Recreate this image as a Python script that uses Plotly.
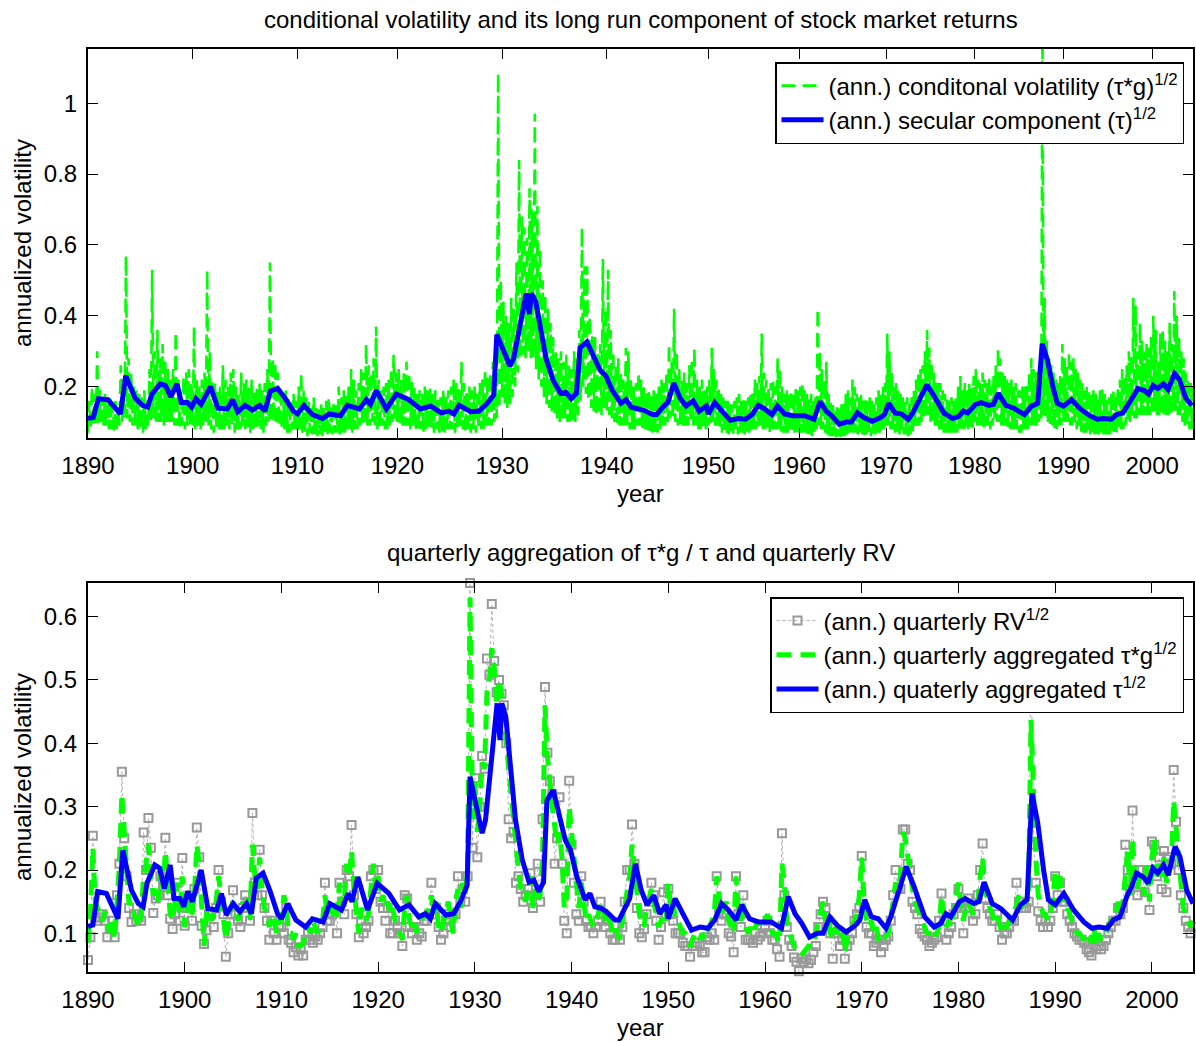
import numpy as np
import plotly.graph_objects as go

FONT = "Liberation Sans, Arial, Helvetica, sans-serif"
FS = 24

# ---------------- axis data ----------------
decade_years = [1890, 1900, 1910, 1920, 1930, 1940, 1950, 1960, 1970, 1980, 1990, 2000]
decade_labels = [str(y) for y in decade_years]
# top panel is daily data: trading days per decade (6-day weeks before 1952)
decade_trading_days = [3000, 3000, 2860, 3000, 3000, 2910, 2600, 2490, 2540, 2540, 2540]
tail_trading_days = 1170
top_end_year = 2004.375

first_quarter = 1890.0
quarter_len = 0.25

top_yticks = [0.2, 0.4, 0.6, 0.8, 1.0]
top_ylabels = ["0.2", "0.4", "0.6", "0.8", "1"]
bottom_yticks = [0.1, 0.2, 0.3, 0.4, 0.5, 0.6]
bottom_ylabels = ["0.1", "0.2", "0.3", "0.4", "0.5", "0.6"]

# ---------------- secular component tau^(1/2) ----------------
tau_years = [1890.0, 1890.5, 1891.0, 1891.9, 1893.1, 1893.6, 1894.5, 1895.2, 1895.7, 1896.1,
             1896.9, 1897.4, 1897.9, 1898.5, 1898.9, 1899.5, 1899.9, 1900.3, 1900.8, 1901.7,
             1902.4, 1903.3, 1903.8, 1904.3, 1905.0, 1905.7, 1906.4, 1906.9, 1907.4, 1908.1,
             1908.8, 1909.6, 1910.0, 1910.65, 1911.5, 1912.5, 1913.2, 1914.3, 1915.0, 1916.2,
             1916.9, 1917.3, 1917.9, 1918.9, 1919.9, 1921.1, 1922.2, 1923.2, 1924.2, 1924.9,
             1925.4, 1925.9, 1927.0, 1927.8, 1928.5, 1929.2, 1929.5, 1929.9, 1930.75, 1931.1,
             1931.8, 1932.3, 1932.6, 1932.8, 1933.2, 1933.7, 1934.2, 1934.9, 1935.6, 1936.1,
             1936.6, 1937.1, 1937.45, 1938.1, 1938.7, 1939.35, 1939.9, 1940.55, 1941.4, 1941.9,
             1942.4, 1943.1, 1943.6, 1944.5, 1944.9, 1945.5, 1946.0, 1946.6, 1947.2, 1947.8,
             1948.5, 1949.1, 1949.8, 1950.0, 1950.7, 1951.5, 1952.4, 1953.3, 1954.1, 1954.8,
             1955.5, 1956.2, 1957.0, 1957.6, 1958.4, 1959.3, 1960.65, 1961.7, 1962.4, 1963.1,
             1963.8, 1964.6, 1965.4, 1966.0, 1966.7, 1967.5, 1968.4, 1969.3, 1969.8, 1970.3,
             1971.0, 1971.7, 1972.5, 1973.0, 1973.7, 1974.6, 1975.4, 1976.5, 1977.5, 1978.2,
             1978.7, 1979.2, 1980.1, 1980.7, 1981.6, 1982.1, 1982.65, 1983.5, 1984.4, 1985.6,
             1986.4, 1987.1, 1987.6, 1988.2, 1988.8, 1989.3, 1990.0, 1990.9, 1991.9, 1992.96,
             1993.8, 1994.5, 1995.4, 1996.0, 1996.7, 1997.4, 1997.9, 1998.4, 1999.1, 1999.6,
             2000.1, 2000.6, 2001.2, 2001.7, 2002.4, 2002.9, 2003.6, 2004.25]
tau_vals = [0.111, 0.113, 0.166, 0.163, 0.123, 0.231, 0.168, 0.147, 0.142, 0.179,
            0.208, 0.203, 0.171, 0.208, 0.155, 0.155, 0.142, 0.166, 0.150, 0.200,
            0.139, 0.137, 0.163, 0.129, 0.147, 0.134, 0.147, 0.131, 0.187, 0.195,
            0.168, 0.131, 0.123, 0.147, 0.121, 0.110, 0.123, 0.118, 0.147, 0.137,
            0.163, 0.150, 0.189, 0.137, 0.179, 0.163, 0.137, 0.145, 0.126, 0.131,
            0.123, 0.147, 0.129, 0.131, 0.150, 0.176, 0.347, 0.316, 0.258, 0.279,
            0.379, 0.463, 0.405, 0.463, 0.442, 0.358, 0.279, 0.216, 0.181, 0.184,
            0.166, 0.181, 0.310, 0.326, 0.284, 0.247, 0.231, 0.189, 0.153, 0.163,
            0.142, 0.139, 0.134, 0.121, 0.121, 0.142, 0.155, 0.210, 0.168, 0.145,
            0.160, 0.131, 0.145, 0.123, 0.155, 0.131, 0.105, 0.110, 0.108, 0.121,
            0.147, 0.137, 0.121, 0.145, 0.123, 0.118, 0.118, 0.108, 0.158, 0.131,
            0.116, 0.094, 0.100, 0.100, 0.126, 0.112, 0.102, 0.112, 0.121, 0.153,
            0.126, 0.123, 0.108, 0.126, 0.163, 0.205, 0.174, 0.126, 0.110, 0.116,
            0.131, 0.126, 0.150, 0.155, 0.147, 0.150, 0.181, 0.147, 0.139, 0.121,
            0.145, 0.153, 0.321, 0.274, 0.200, 0.153, 0.145, 0.163, 0.137, 0.118,
            0.108, 0.110, 0.108, 0.121, 0.126, 0.158, 0.174, 0.195, 0.189, 0.179,
            0.203, 0.195, 0.208, 0.192, 0.237, 0.221, 0.168, 0.147]

# ---------------- top panel: conditional volatility, quarterly high / low of daily values ----------------
cv_hi = [
    0.16, 0.20, 0.18, 0.30,  0.19, 0.17, 0.18, 0.16,  0.17, 0.15, 0.16, 0.14,  0.26, 0.22, 0.57, 0.28,  # 1890-93
    0.24, 0.20, 0.19, 0.18,  0.17, 0.19, 0.16, 0.25,  0.53, 0.30, 0.36, 0.28,  0.32, 0.27, 0.25, 0.22,  # 1894-97
    0.25, 0.355, 0.22, 0.19, 0.23, 0.24, 0.25, 0.21,  0.37, 0.22, 0.20, 0.22,  0.24, 0.53, 0.30, 0.22,  # 1898-01
    0.21, 0.19, 0.20, 0.26,  0.22, 0.20, 0.24, 0.25,  0.20, 0.18, 0.24, 0.21,  0.22, 0.20, 0.22, 0.19,  # 1902-05
    0.20, 0.21, 0.19, 0.21,  0.25, 0.55, 0.28, 0.27,  0.24, 0.20, 0.18, 0.19,  0.17, 0.16, 0.18, 0.16,  # 1906-09
    0.20, 0.24, 0.19, 0.17,  0.16, 0.15, 0.17, 0.14,  0.14, 0.15, 0.14, 0.16,  0.17, 0.15, 0.16, 0.15,  # 1910-13
    0.20, 0.17, 0.19, 0.18,  0.20, 0.25, 0.22, 0.19,  0.21, 0.25, 0.24, 0.32,  0.26, 0.24, 0.28, 0.37,  # 1914-17
    0.22, 0.19, 0.20, 0.21,  0.22, 0.25, 0.29, 0.24,  0.25, 0.22, 0.24, 0.27,  0.24, 0.22, 0.20, 0.19,  # 1918-21
    0.19, 0.18, 0.20, 0.19,  0.20, 0.18, 0.19, 0.17,  0.17, 0.19, 0.18, 0.19,  0.20, 0.22, 0.21, 0.20,  # 1922-25
    0.27, 0.21, 0.19, 0.20,  0.19, 0.20, 0.18, 0.21,  0.22, 0.25, 0.23, 0.24,  0.27, 0.26, 1.085, 0.50, # 1926-29
    0.44, 0.40, 0.38, 0.45,  0.42, 0.55, 0.84, 0.68,  0.65, 0.62, 0.76, 0.70,  0.97, 0.71, 0.59, 0.50,  # 1930-33
    0.46, 0.42, 0.38, 0.34,  0.30, 0.28, 0.30, 0.27,  0.29, 0.26, 0.25, 0.30,  0.28, 0.36, 0.65, 0.54,  # 1934-37
    0.54, 0.40, 0.35, 0.34,  0.30, 0.32, 0.56, 0.42,  0.53, 0.36, 0.30, 0.26,  0.28, 0.24, 0.22, 0.31,  # 1938-41
    0.30, 0.22, 0.20, 0.21,  0.24, 0.22, 0.20, 0.19,  0.19, 0.18, 0.19, 0.18,  0.20, 0.22, 0.21, 0.24,  # 1942-45
    0.32, 0.27, 0.42, 0.30,  0.25, 0.22, 0.24, 0.21,  0.26, 0.28, 0.31, 0.22,  0.20, 0.22, 0.19, 0.20,  # 1946-49
    0.22, 0.31, 0.25, 0.22,  0.20, 0.18, 0.17, 0.16,  0.16, 0.15, 0.15, 0.16,  0.17, 0.18, 0.16, 0.17,  # 1950-53
    0.16, 0.17, 0.18, 0.19,  0.22, 0.21, 0.23, 0.35,  0.24, 0.22, 0.20, 0.21,  0.22, 0.20, 0.28, 0.25,  # 1954-57
    0.20, 0.18, 0.19, 0.18,  0.19, 0.18, 0.20, 0.19,  0.20, 0.21, 0.19, 0.18,  0.17, 0.18, 0.16, 0.17,  # 1958-61
    0.42, 0.30, 0.25, 0.22,  0.27, 0.18, 0.16, 0.15,  0.14, 0.15, 0.14, 0.15,  0.16, 0.18, 0.19, 0.17,  # 1962-65
    0.22, 0.20, 0.18, 0.17,  0.18, 0.16, 0.17, 0.16,  0.17, 0.16, 0.15, 0.17,  0.19, 0.18, 0.20, 0.21,  # 1966-69
    0.35, 0.30, 0.24, 0.20,  0.21, 0.19, 0.18, 0.17,  0.16, 0.17, 0.16, 0.17,  0.19, 0.22, 0.24, 0.25,  # 1970-73
    0.26, 0.30, 0.36, 0.31,  0.27, 0.24, 0.22, 0.21,  0.21, 0.19, 0.18, 0.17,  0.16, 0.17, 0.16, 0.17,  # 1974-77
    0.20, 0.23, 0.19, 0.21,  0.19, 0.21, 0.20, 0.23,  0.25, 0.22, 0.21, 0.24,  0.22, 0.21, 0.23, 0.20,  # 1978-81
    0.23, 0.26, 0.31, 0.28,  0.24, 0.23, 0.22, 0.21,  0.22, 0.20, 0.21, 0.19,  0.19, 0.20, 0.20, 0.21,  # 1982-85
    0.24, 0.28, 0.25, 0.24,  0.25, 0.26, 1.30, 0.45,  0.33, 0.28, 0.26, 0.24,  0.22, 0.21, 0.23, 0.32,  # 1986-89
    0.28, 0.26, 0.30, 0.27,  0.28, 0.25, 0.24, 0.22,  0.21, 0.19, 0.20, 0.19,  0.18, 0.19, 0.18, 0.17,  # 1990-93
    0.19, 0.20, 0.18, 0.17,  0.17, 0.18, 0.19, 0.18,  0.20, 0.22, 0.25, 0.23,  0.26, 0.30, 0.29, 0.45,  # 1994-97
    0.43, 0.30, 0.38, 0.33,  0.30, 0.32, 0.31, 0.34,  0.40, 0.36, 0.27, 0.35,  0.36, 0.33, 0.30, 0.38,  # 1998-01
    0.32, 0.47, 0.40, 0.34,  0.30, 0.28, 0.24, 0.22,  0.21, 0.20]                                      # 2002-04
cv_lo = [
    0.07, 0.08, 0.09, 0.09,  0.09, 0.10, 0.09, 0.09,  0.08, 0.08, 0.07, 0.08,  0.09, 0.10, 0.11, 0.11,  # 1890-93
    0.10, 0.09, 0.09, 0.08,  0.08, 0.07, 0.08, 0.09,  0.10, 0.11, 0.10, 0.10,  0.10, 0.09, 0.10, 0.10,  # 1894-97
    0.10, 0.09, 0.09, 0.08,  0.09, 0.08, 0.09, 0.09,  0.09, 0.08, 0.09, 0.08,  0.09, 0.10, 0.09, 0.08,  # 1898-01
    0.07, 0.08, 0.08, 0.07,  0.08, 0.09, 0.08, 0.09,  0.07, 0.07, 0.08, 0.08,  0.08, 0.08, 0.07, 0.08,  # 1902-05
    0.08, 0.08, 0.08, 0.07,  0.09, 0.10, 0.10, 0.10,  0.09, 0.09, 0.08, 0.08,  0.07, 0.07, 0.08, 0.07,  # 1906-09
    0.07, 0.08, 0.07, 0.07,  0.06, 0.07, 0.065, 0.06, 0.06, 0.065, 0.06, 0.07, 0.06, 0.07, 0.065, 0.07, # 1910-13
    0.07, 0.065, 0.07, 0.07, 0.08, 0.08, 0.07, 0.08,  0.08, 0.09, 0.09, 0.09,  0.09, 0.09, 0.10, 0.09,  # 1914-17
    0.08, 0.08, 0.09, 0.08,  0.08, 0.09, 0.10, 0.10,  0.10, 0.09, 0.09, 0.09,  0.09, 0.08, 0.09, 0.08,  # 1918-21
    0.08, 0.08, 0.07, 0.08,  0.08, 0.08, 0.07, 0.08,  0.07, 0.07, 0.07, 0.08,  0.08, 0.08, 0.07, 0.08,  # 1922-25
    0.08, 0.08, 0.07, 0.07,  0.07, 0.08, 0.07, 0.08,  0.08, 0.08, 0.09, 0.09,  0.09, 0.10, 0.11, 0.14,  # 1926-29
    0.17, 0.15, 0.14, 0.15,  0.17, 0.20, 0.24, 0.28,  0.29, 0.28, 0.30, 0.28,  0.28, 0.25, 0.22, 0.20,  # 1930-33
    0.17, 0.15, 0.14, 0.13,  0.12, 0.11, 0.10, 0.11,  0.11, 0.10, 0.10, 0.10,  0.10, 0.12, 0.16, 0.20,  # 1934-37
    0.18, 0.16, 0.14, 0.13,  0.12, 0.12, 0.12, 0.14,  0.13, 0.12, 0.11, 0.10,  0.09, 0.09, 0.09, 0.09,  # 1938-41
    0.09, 0.08, 0.08, 0.08,  0.09, 0.09, 0.08, 0.08,  0.07, 0.07, 0.07, 0.07,  0.07, 0.08, 0.09, 0.09,  # 1942-45
    0.10, 0.11, 0.11, 0.10,  0.09, 0.09, 0.09, 0.09,  0.09, 0.10, 0.09, 0.09,  0.08, 0.08, 0.08, 0.08,  # 1946-49
    0.09, 0.09, 0.10, 0.09,  0.08, 0.08, 0.07, 0.07,  0.065, 0.065, 0.07, 0.065, 0.07, 0.065, 0.07, 0.07, # 1950-53
    0.065, 0.07, 0.07, 0.07, 0.08, 0.08, 0.08, 0.09,  0.08, 0.08, 0.08, 0.07,  0.08, 0.08, 0.08, 0.08,  # 1954-57
    0.07, 0.07, 0.07, 0.07,  0.07, 0.07, 0.07, 0.07,  0.07, 0.07, 0.07, 0.07,  0.065, 0.065, 0.06, 0.065, # 1958-61
    0.08, 0.09, 0.08, 0.08,  0.07, 0.065, 0.06, 0.06, 0.06, 0.057, 0.06, 0.058, 0.06, 0.06, 0.065, 0.07, # 1962-65
    0.07, 0.07, 0.07, 0.065, 0.065, 0.065, 0.06, 0.065, 0.065, 0.06, 0.065, 0.065, 0.07, 0.07, 0.07, 0.08, # 1966-69
    0.09, 0.09, 0.08, 0.07,  0.07, 0.07, 0.065, 0.07, 0.065, 0.065, 0.06, 0.065, 0.07, 0.08, 0.09, 0.09, # 1970-73
    0.10, 0.11, 0.12, 0.12,  0.10, 0.10, 0.09, 0.09,  0.08, 0.08, 0.07, 0.07,  0.07, 0.07, 0.07, 0.07,  # 1974-77
    0.07, 0.08, 0.08, 0.08,  0.08, 0.08, 0.08, 0.08,  0.09, 0.09, 0.09, 0.09,  0.08, 0.09, 0.09, 0.08,  # 1978-81
    0.09, 0.10, 0.10, 0.10,  0.09, 0.09, 0.09, 0.08,  0.08, 0.08, 0.08, 0.08,  0.07, 0.07, 0.08, 0.08,  # 1982-85
    0.08, 0.09, 0.09, 0.09,  0.09, 0.10, 0.11, 0.12,  0.11, 0.10, 0.09, 0.09,  0.08, 0.08, 0.09, 0.09,  # 1986-89
    0.10, 0.10, 0.10, 0.09,  0.09, 0.09, 0.08, 0.08,  0.07, 0.07, 0.07, 0.07,  0.065, 0.065, 0.065, 0.065, # 1990-93
    0.065, 0.07, 0.065, 0.065, 0.065, 0.065, 0.07, 0.07, 0.07, 0.08, 0.08, 0.08, 0.09, 0.10, 0.10, 0.11, # 1994-97
    0.11, 0.11, 0.12, 0.12,  0.12, 0.12, 0.12, 0.12,  0.12, 0.13, 0.12, 0.12,  0.12, 0.12, 0.12, 0.12,  # 1998-01
    0.12, 0.13, 0.13, 0.12,  0.11, 0.10, 0.09, 0.09,  0.08, 0.08]                                      # 2002-04

# ---------------- bottom panel: quarterly aggregated tau*g ^(1/2) ----------------
tg_q = [
    0.085, 0.13, 0.235, 0.15, 0.14, 0.13, 0.12, 0.135, 0.12, 0.10, 0.12, 0.09, 0.15, 0.21, 0.32, 0.24,  # 1890-93
    0.20, 0.145, 0.15, 0.13,  0.12, 0.11, 0.13, 0.19,  0.21, 0.24, 0.19, 0.16,  0.17, 0.15, 0.20, 0.17,  # 1894-97
    0.23, 0.17, 0.13, 0.12,  0.15, 0.18, 0.13, 0.19,  0.11, 0.14, 0.15, 0.13,  0.16, 0.24, 0.21, 0.13,  # 1898-01
    0.08, 0.13, 0.14, 0.12,  0.13, 0.15, 0.19, 0.16,  0.12, 0.09, 0.11, 0.14,  0.15, 0.14, 0.12, 0.13,  # 1902-05
    0.15, 0.14, 0.16, 0.12,  0.24, 0.19, 0.17, 0.22,  0.17, 0.14, 0.13, 0.11,  0.13, 0.12, 0.10, 0.12,  # 1906-09
    0.12, 0.16, 0.14, 0.10,  0.10, 0.09, 0.10, 0.08,  0.08, 0.085, 0.10, 0.11, 0.10, 0.12, 0.11, 0.10,  # 1910-13
    0.11, 0.12, 0.16, 0.13,  0.13, 0.14, 0.12, 0.13,  0.18, 0.14, 0.15, 0.21,  0.19, 0.23, 0.17, 0.14,  # 1914-17
    0.10, 0.14, 0.13, 0.12,  0.13, 0.17, 0.21, 0.17,  0.19, 0.15, 0.16, 0.14,  0.15, 0.13, 0.14, 0.12,  # 1918-21
    0.11, 0.10, 0.09, 0.14,  0.16, 0.12, 0.11, 0.12,  0.10, 0.11, 0.12, 0.13,  0.13, 0.14, 0.16, 0.13,  # 1922-25
    0.15, 0.11, 0.10, 0.12,  0.13, 0.15, 0.12, 0.10,  0.15, 0.17, 0.14, 0.18,  0.16, 0.20, 0.63, 0.28,  # 1926-29
    0.34, 0.26, 0.30, 0.37,  0.36, 0.48, 0.50, 0.55,  0.52, 0.46, 0.50, 0.48,  0.44, 0.40, 0.34, 0.30,  # 1930-33
    0.28, 0.24, 0.20, 0.17,  0.16, 0.15, 0.18, 0.19,  0.14, 0.17, 0.15, 0.16,  0.22, 0.46, 0.38, 0.33,  # 1934-37
    0.30, 0.27, 0.24, 0.26,  0.22, 0.14, 0.15, 0.30,  0.26, 0.20, 0.17, 0.14,  0.18, 0.14, 0.12, 0.13,  # 1938-41
    0.12, 0.11, 0.12, 0.13,  0.15, 0.14, 0.12, 0.13,  0.12, 0.10, 0.11, 0.10,  0.09, 0.12, 0.14, 0.17,  # 1942-45
    0.19, 0.24, 0.20, 0.16,  0.13, 0.12, 0.11, 0.14,  0.16, 0.17, 0.15, 0.13,  0.11, 0.12, 0.13, 0.12,  # 1946-49
    0.18, 0.14, 0.15, 0.12,  0.12, 0.11, 0.10, 0.10,  0.09, 0.08, 0.09, 0.10,  0.10, 0.09, 0.10, 0.09,  # 1950-53
    0.10, 0.11, 0.12, 0.13,  0.19, 0.15, 0.13, 0.14,  0.15, 0.12, 0.11, 0.10,  0.19, 0.14, 0.12, 0.15,  # 1954-57
    0.11, 0.10, 0.11, 0.10,  0.11, 0.12, 0.11, 0.12,  0.12, 0.13, 0.12, 0.10,  0.10, 0.09, 0.085, 0.21, # 1958-61
    0.18, 0.12, 0.10, 0.09,  0.08, 0.075, 0.07, 0.065, 0.07, 0.075, 0.08, 0.08, 0.08, 0.10, 0.12, 0.14, # 1962-65
    0.15, 0.12, 0.13, 0.10,  0.09, 0.11, 0.10, 0.09,  0.10, 0.07, 0.09, 0.10,  0.11, 0.12, 0.13, 0.16,  # 1966-69
    0.22, 0.15, 0.12, 0.11,  0.12, 0.10, 0.11, 0.09,  0.09, 0.10, 0.095, 0.10, 0.12, 0.15, 0.18, 0.17,  # 1970-73
    0.19, 0.26, 0.25, 0.22,  0.19, 0.17, 0.15, 0.14,  0.13, 0.12, 0.11, 0.10,  0.10, 0.09, 0.095, 0.10, # 1974-77
    0.11, 0.16, 0.13, 0.11,  0.12, 0.11, 0.13, 0.15,  0.18, 0.15, 0.12, 0.14,  0.15, 0.14, 0.13, 0.14,  # 1978-81
    0.15, 0.19, 0.22, 0.17,  0.15, 0.14, 0.13, 0.12,  0.13, 0.11, 0.10, 0.11,  0.11, 0.12, 0.12, 0.13,  # 1982-85
    0.15, 0.16, 0.14, 0.15,  0.15, 0.17, 0.437, 0.32, 0.22, 0.16, 0.14, 0.13,  0.13, 0.12, 0.13, 0.15,  # 1986-89
    0.20, 0.17, 0.19, 0.15,  0.16, 0.14, 0.13, 0.12,  0.11, 0.10, 0.10, 0.095, 0.09, 0.10, 0.09, 0.085, # 1990-93
    0.11, 0.08, 0.10, 0.09,  0.09, 0.10, 0.11, 0.12,  0.12, 0.13, 0.15, 0.13,  0.15, 0.20, 0.23, 0.16,  # 1994-97
    0.25, 0.18, 0.17, 0.19,  0.18, 0.16, 0.21, 0.15,  0.22, 0.25, 0.19, 0.21,  0.19, 0.22, 0.18, 0.20,  # 1998-01
    0.21, 0.31, 0.26, 0.22,  0.18, 0.14, 0.13, 0.12,  0.11, 0.12]                                      # 2002-04

# ---------------- bottom panel: quarterly realized volatility RV^(1/2) ----------------
rv_q = [
    0.058, 0.094, 0.254, 0.125, 0.12, 0.125, 0.13, 0.12, 0.094, 0.107, 0.12, 0.094, 0.16, 0.21, 0.355, 0.25, # 1890-93
    0.19, 0.14, 0.118, 0.13,  0.12, 0.125, 0.12, 0.259, 0.20, 0.282, 0.235, 0.132, 0.155, 0.16, 0.19, 0.175, # 1894-97
    0.251, 0.16, 0.123, 0.107, 0.13, 0.18, 0.12, 0.219, 0.112, 0.14, 0.16, 0.12, 0.17, 0.267, 0.22, 0.112,  # 1898-01
    0.083, 0.105, 0.13, 0.13, 0.11, 0.14, 0.20, 0.15,  0.13, 0.063, 0.10, 0.13, 0.168, 0.13, 0.12, 0.11,    # 1902-05
    0.14, 0.16, 0.15, 0.12,  0.29, 0.18, 0.16, 0.232,  0.16, 0.14, 0.12, 0.09,  0.12, 0.10, 0.09, 0.11,    # 1906-09
    0.11, 0.10, 0.14, 0.09,  0.085, 0.07, 0.078, 0.065, 0.075, 0.065, 0.09, 0.10, 0.09, 0.085, 0.095, 0.09, # 1910-13
    0.10, 0.11, 0.18, 0.12,  0.12, 0.13, 0.14, 0.10,  0.18, 0.15, 0.13, 0.20,  0.19, 0.271, 0.16, 0.13,   # 1914-17
    0.094, 0.12, 0.10, 0.11, 0.12, 0.19, 0.20, 0.17,  0.20, 0.15, 0.14, 0.12,  0.14, 0.10, 0.10, 0.12,    # 1918-21
    0.11, 0.10, 0.08, 0.16,  0.155, 0.11, 0.10, 0.11, 0.09, 0.10, 0.095, 0.12, 0.12, 0.13, 0.18, 0.13,    # 1922-25
    0.14, 0.11, 0.09, 0.10,  0.12, 0.13, 0.11, 0.13,  0.13, 0.19, 0.15, 0.17,  0.15, 0.19, 0.653, 0.235,  # 1926-29
    0.345, 0.22, 0.30, 0.38, 0.36, 0.534, 0.508, 0.62, 0.53, 0.48, 0.50, 0.478, 0.46, 0.40, 0.28, 0.25,  # 1930-33
    0.26, 0.18, 0.19, 0.17,  0.15, 0.16, 0.17, 0.195,  0.14, 0.16, 0.21, 0.15,  0.28, 0.489, 0.385, 0.34, # 1934-37
    0.32, 0.21, 0.25, 0.315, 0.21, 0.12, 0.10, 0.341,  0.24, 0.18, 0.13, 0.12,  0.19, 0.15, 0.12, 0.11,   # 1938-41
    0.11, 0.10, 0.11, 0.12,  0.15, 0.13, 0.11, 0.12,  0.10, 0.09, 0.09, 0.10,  0.09, 0.11, 0.15, 0.20,    # 1942-45
    0.20, 0.272, 0.21, 0.14, 0.10, 0.094, 0.107, 0.13, 0.15, 0.18, 0.16, 0.12, 0.09, 0.11, 0.165, 0.13,  # 1946-49
    0.17, 0.13, 0.12, 0.10,  0.10, 0.10, 0.085, 0.08, 0.08, 0.063, 0.08, 0.085, 0.085, 0.08, 0.07, 0.07, # 1950-53
    0.094, 0.09, 0.10, 0.09, 0.19, 0.14, 0.12, 0.13,  0.13, 0.10, 0.095, 0.07, 0.19, 0.13, 0.11, 0.16,   # 1954-57
    0.09, 0.09, 0.09, 0.085, 0.10, 0.09, 0.095, 0.10, 0.11, 0.12, 0.10, 0.09,  0.09, 0.075, 0.063, 0.258, # 1958-61
    0.16, 0.11, 0.09, 0.08,  0.062, 0.055, 0.04, 0.06, 0.055, 0.06, 0.053, 0.058, 0.07, 0.08, 0.11, 0.13, # 1962-65
    0.15, 0.14, 0.12, 0.10,  0.06, 0.10, 0.10, 0.08,  0.09, 0.06, 0.08, 0.09,  0.10, 0.12, 0.13, 0.14,    # 1966-69
    0.222, 0.14, 0.11, 0.10, 0.10, 0.08, 0.085, 0.09, 0.07, 0.08, 0.09, 0.095, 0.12, 0.16, 0.20, 0.17,   # 1970-73
    0.17, 0.264, 0.264, 0.21, 0.20, 0.15, 0.14, 0.13, 0.107, 0.10, 0.095, 0.09, 0.08, 0.085, 0.09, 0.094, # 1974-77
    0.12, 0.163, 0.12, 0.09, 0.10, 0.11, 0.13, 0.14,  0.17, 0.14, 0.10, 0.14,  0.155, 0.14, 0.12, 0.13,  # 1978-81
    0.16, 0.20, 0.242, 0.155, 0.14, 0.13, 0.12, 0.12, 0.13, 0.11, 0.09, 0.10,  0.10, 0.11, 0.12, 0.12,   # 1982-85
    0.18, 0.15, 0.14, 0.14,  0.14, 0.15, 0.56, 0.24,  0.18, 0.135, 0.12, 0.11, 0.12, 0.11, 0.12, 0.14,   # 1986-89
    0.19, 0.16, 0.18, 0.15,  0.15, 0.13, 0.12, 0.11,  0.10, 0.095, 0.09, 0.09, 0.085, 0.075, 0.07, 0.065, # 1990-93
    0.09, 0.075, 0.08, 0.075, 0.08, 0.09, 0.10, 0.11, 0.12, 0.12, 0.14, 0.13,  0.14, 0.24, 0.20, 0.17,   # 1994-97
    0.294, 0.18, 0.16, 0.20, 0.20, 0.165, 0.20, 0.137, 0.245, 0.24, 0.19, 0.22, 0.17, 0.23, 0.165, 0.22, # 1998-01
    0.21, 0.358, 0.276, 0.20, 0.16, 0.14, 0.12, 0.11, 0.10, 0.11]                                       # 2002-04

# ---------------- scales ----------------
tick_days = np.concatenate([[0], np.cumsum(decade_trading_days)])
axis_years = decade_years + [top_end_year]
axis_days = list(tick_days) + [tick_days[-1] + tail_trading_days]


def to_trading_day(years):
    return np.interp(years, axis_years, axis_days)


n_q = len(tg_q)
q_years = first_quarter + quarter_len * np.arange(n_q)

cv_years = np.empty(2 * n_q)
cv_years[0::2] = q_years
cv_years[1::2] = q_years + quarter_len / 2
cv_vals = np.empty(2 * n_q)
cv_vals[0::2] = cv_lo
cv_vals[1::2] = cv_hi

GREEN = "#00ff00"
BLUE = "#0000ff"

fig = go.Figure()

fig.add_trace(go.Scatter(
    x=to_trading_day(cv_years), y=cv_vals, mode="lines",
    line=dict(color=GREEN, width=2.6, dash="14px,7px"),
    name="(ann.) conditonal volatility (τ*g)<sup>1/2</sup>",
    xaxis="x", yaxis="y", legend="legend"))
fig.add_trace(go.Scatter(
    x=to_trading_day(tau_years), y=tau_vals, mode="lines",
    line=dict(color=BLUE, width=5),
    name="(ann.) secular component (τ)<sup>1/2</sup>",
    xaxis="x", yaxis="y", legend="legend"))

fig.add_trace(go.Scatter(
    x=q_years, y=rv_q, mode="lines+markers",
    line=dict(color="#b0b0b0", width=1, dash="dot"),
    marker=dict(symbol="square-open", size=8, color="#999999", line=dict(width=2, color="#999999")),
    cliponaxis=False,
    name="(ann.) quarterly RV<sup>1/2</sup>",
    xaxis="x2", yaxis="y2", legend="legend2"))
fig.add_trace(go.Scatter(
    x=q_years, y=tg_q, mode="lines",
    line=dict(color=GREEN, width=5, dash="15px,9px"),
    name="(ann.) quarterly aggregated τ*g<sup>1/2</sup>",
    xaxis="x2", yaxis="y2", legend="legend2"))
fig.add_trace(go.Scatter(
    x=tau_years, y=tau_vals, mode="lines",
    line=dict(color=BLUE, width=5),
    name="(ann.) quaterly aggregated τ<sup>1/2</sup>",
    xaxis="x2", yaxis="y2", legend="legend2"))

axis_style = dict(showline=True, linecolor="black", linewidth=2, mirror="ticks",
                  ticks="inside", ticklen=10, tickwidth=1, tickcolor="black",
                  showgrid=False, zeroline=False,
                  tickfont=dict(family=FONT, size=FS, color="black"))

W, H = 1196, 1042
ML, MR, MT, MB = 88, 1, 49, 70
PH = H - MT - MB


def py(pix):  # pixel row -> paper y
    return (H - MB - pix) / PH


def px(pix):  # pixel column -> paper x
    return (pix - ML) / (W - ML - MR)


legend_style = dict(xanchor="right", yanchor="top", bgcolor="white", bordercolor="black",
                    borderwidth=1.5, font=dict(family=FONT, size=FS, color="black"),
                    itemwidth=42, tracegroupgap=0)

fig.update_layout(
    width=W, height=H,
    margin=dict(l=ML, r=MR, t=MT, b=MB),
    paper_bgcolor="white", plot_bgcolor="white",
    font=dict(family=FONT, size=FS, color="black"),
    showlegend=True,
    xaxis=dict(axis_style, domain=[0, 1], anchor="y", range=[0, axis_days[-1]],
               tickmode="array", tickvals=list(tick_days), ticktext=decade_labels,
               ticklabelstandoff=5),
    yaxis=dict(axis_style, domain=[py(438), 1], anchor="x", range=[0.055, 1.153],
               tickmode="array", tickvals=top_yticks, ticktext=top_ylabels,
               ticklabelstandoff=4),
    xaxis2=dict(axis_style, domain=[0, 1], anchor="y2", range=[1890, 2004.25],
                tickmode="array", tickvals=decade_years, ticktext=decade_labels,
                ticklabelstandoff=5),
    yaxis2=dict(axis_style, domain=[0, py(583)], anchor="x2", range=[0.039, 0.653],
                tickmode="array", tickvals=bottom_yticks, ticktext=bottom_ylabels,
                ticklabelstandoff=4),
    legend=dict(legend_style, x=px(1186), y=py(62)),
    legend2=dict(legend_style, x=px(1186), y=py(597)),
    annotations=[
        dict(text="conditional volatility and its long run component of stock market returns",
             x=0.5, y=py(20), xref="paper", yref="paper", showarrow=False,
             xanchor="center", yanchor="middle", font=dict(family=FONT, size=FS)),
        dict(text="quarterly aggregation of τ*g / τ and quarterly RV",
             x=0.5, y=py(552), xref="paper", yref="paper", showarrow=False,
             xanchor="center", yanchor="middle", font=dict(family=FONT, size=FS)),
        dict(text="year", x=0.5, y=py(493), xref="paper", yref="paper", showarrow=False,
             xanchor="center", yanchor="middle", font=dict(family=FONT, size=FS)),
        dict(text="year", x=0.5, y=py(1027), xref="paper", yref="paper", showarrow=False,
             xanchor="center", yanchor="middle", font=dict(family=FONT, size=FS)),
        dict(text="annualized volatility", x=px(22), y=py(243), xref="paper", yref="paper",
             showarrow=False, textangle=-90, xanchor="center", yanchor="middle",
             font=dict(family=FONT, size=FS)),
        dict(text="annualized volatility", x=px(22), y=py(777), xref="paper", yref="paper",
             showarrow=False, textangle=-90, xanchor="center", yanchor="middle",
             font=dict(family=FONT, size=FS)),
    ],
)

fig.write_html("out.html", config={"displayModeBar": False},
               post_script="document.body.style.margin='0px';")
